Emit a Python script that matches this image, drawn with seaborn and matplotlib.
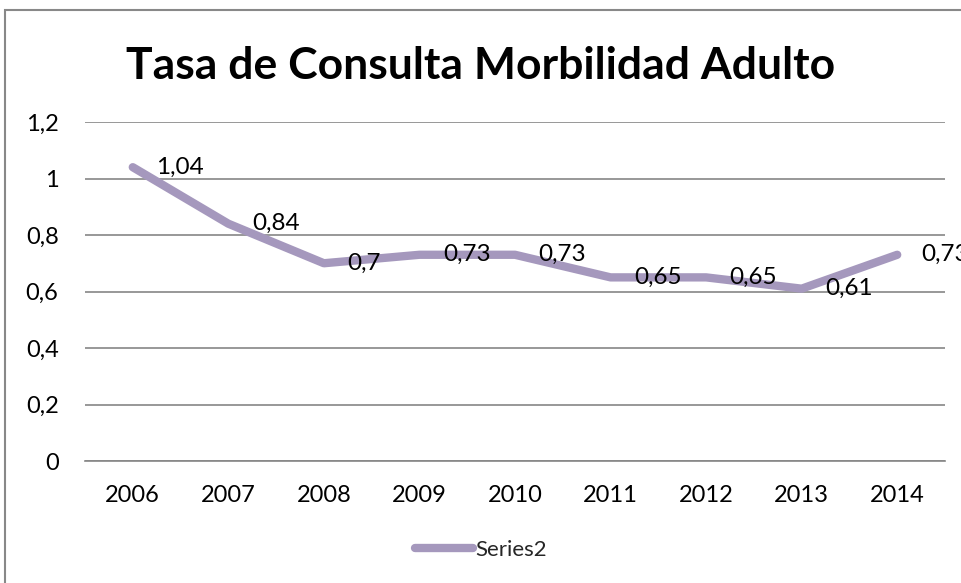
import matplotlib
matplotlib.use("Agg")
import matplotlib.pyplot as plt
import seaborn as sns
import pandas as pd
from matplotlib.patches import Rectangle

# Datos
years = ["2006", "2007", "2008", "2009", "2010", "2011", "2012", "2013", "2014"]
tasa = [1.04, 0.84, 0.70, 0.73, 0.73, 0.65, 0.65, 0.61, 0.73]
tasa_labels = ["1,04", "0,84", "0,7", "0,73", "0,73", "0,65", "0,65", "0,61", "0,73"]
yticks = [0, 0.2, 0.4, 0.6, 0.8, 1.0, 1.2]
ytick_labels = ["0", "0,2", "0,4", "0,6", "0,8", "1", "1,2"]
title = "Tasa de Consulta Morbilidad Adulto"
series_name = "Series2"

line_color = "#A598BD"
grid_color = "#868686"

sns.set_theme(style="white")
plt.rcParams["font.family"] = ["Lato", "DejaVu Sans"]

df = pd.DataFrame({"anio": years, "tasa": tasa, "x": range(len(years))})

W, H = 962, 583
fig = plt.figure(figsize=(W / 100, H / 100), dpi=100)
ax = fig.add_axes([85 / W, 1 - 461 / H, (945 - 85) / W, (461 - 122) / H])

sns.lineplot(data=df, x="x", y="tasa", ax=ax, color=line_color, linewidth=6,
             solid_capstyle="round", solid_joinstyle="round", label=series_name,
             legend=False, zorder=3)

# etiquetas de datos a la derecha
for xi, yi, lab in zip(df["x"], df["tasa"], tasa_labels):
    ax.annotate(lab, (xi, yi), xytext=(17, 0), textcoords="offset points",
                ha="left", va="center", fontsize=17.5, color="black",
                annotation_clip=False, zorder=4)

ax.set_xlim(-0.5, len(years) - 0.5)
ax.set_ylim(0, 1.2)
ax.set_yticks(yticks)
ax.set_yticklabels(ytick_labels)
ax.set_xticks(range(len(years)))
ax.set_xticklabels(years)
ax.tick_params(axis="both", length=0, labelsize=17, colors="black")
ax.tick_params(axis="y", pad=19)
ax.tick_params(axis="x", pad=17)
ax.set_xlabel("")
ax.set_ylabel("")
ax.yaxis.grid(True, color=grid_color, linewidth=1.2)
ax.set_axisbelow(True)
for s in ["left", "right", "top"]:
    ax.spines[s].set_visible(False)
ax.spines["bottom"].set_color(grid_color)
ax.spines["bottom"].set_linewidth(1.2)

fig.text(0.5, 1 - 66 / H, title, ha="center", va="center",
         fontsize=32, fontweight="bold", color="black")

# leyenda abajo
handles, labels = ax.get_legend_handles_labels()
fig.legend(handles, labels, loc="center", bbox_to_anchor=(0.5, 1 - 550 / H),
           frameon=False, fontsize=16, handlelength=2.6, handletextpad=0.1)

# borde exterior del gráfico
fig.patches.append(Rectangle((5 / W, -0.01), 1.0, 1 - 10 / H + 0.01,
                             transform=fig.transFigure, fill=False,
                             edgecolor="#888888", linewidth=1.5))

fig.savefig("out.png", dpi=100)
